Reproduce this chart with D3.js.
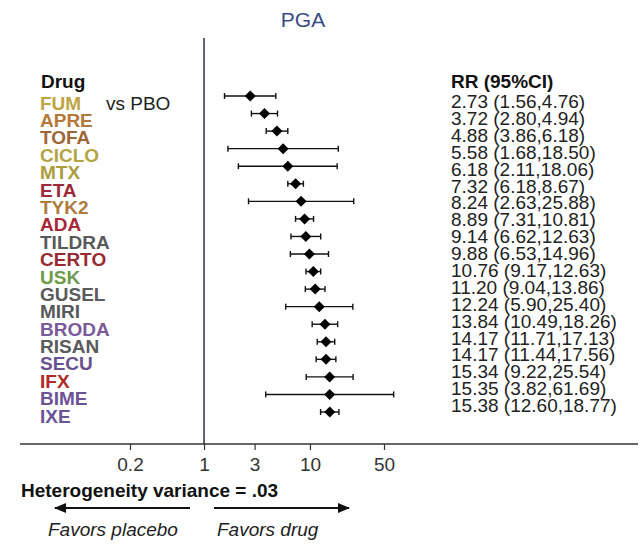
<html>
<script src='https://d3js.org/d3.v7.min.js'></script>
<style>
body { margin: 0; background-color: #ffffff; }
text { font-family: "Liberation Sans", Arial, sans-serif; }
</style>
<body onload='init()'>
<script>
// forest plot data
var drugs = ["FUM","APRE","TOFA","CICLO","MTX","ETA","TYK2","ADA","TILDRA","CERTO",
             "USK","GUSEL","MIRI","BRODA","RISAN","SECU","IFX","BIME","IXE"];
var rr = [2.73,3.72,4.88,5.58,6.18,7.32,8.24,8.89,9.14,9.88,
          10.76,11.20,12.24,13.84,14.17,14.17,15.34,15.35,15.38];
var lower = [1.56,2.80,3.86,1.68,2.11,6.18,2.63,7.31,6.62,6.53,
             9.17,9.04,5.90,10.49,11.71,11.44,9.22,3.82,12.60];
var upper = [4.76,4.94,6.18,18.50,18.06,8.67,25.88,10.81,12.63,14.96,
             12.63,13.86,25.40,18.26,17.13,17.56,25.54,61.69,18.77];
var tickVals = [0.2, 1, 3, 10, 50];
var tickLabels = ["0.2", "1", "3", "10", "50"];

function init() {

var W = 641, H = 549;

// label colours by drug class
var drugColor = {
  FUM: "#bfa444", APRE: "#b5783a", TOFA: "#9c6636", CICLO: "#b3a444", MTX: "#ab9c3c",
  ETA: "#9c2a38", TYK2: "#ad7c3e", ADA: "#a8283a", TILDRA: "#58595b", CERTO: "#9a2a30",
  USK: "#6e9a4c", GUSEL: "#5a5b5d", MIRI: "#58595b", BRODA: "#7a5a98", RISAN: "#5a5b5d",
  SECU: "#6a5290", IFX: "#b22a2a", BIME: "#6c5494", IXE: "#6a5296"
};

var svg = d3.select("body").append("svg")
    .attr("width", W)
    .attr("height", H);

var x = d3.scaleLog().domain([0.2, 50]).range([130, 384]);

var yMark = d3.scalePoint().domain(drugs).range([96, 412]);
var yLab = d3.scalePoint().domain(drugs).range([103, 416]);
var yRR = d3.scalePoint().domain(drugs).range([101.5, 405.5]);

var rows = drugs.map(function(d, i) {
  return {drug: d, rr: rr[i], lo: lower[i], hi: upper[i]};
});

// title
svg.append("text")
    .attr("x", 303).attr("y", 20).attr("dy", "0.35em")
    .attr("text-anchor", "middle")
    .attr("fill", "#3b4c86")
    .style("font-size", "21px")
    .text("PGA");

// line of no effect
svg.append("line")
    .attr("x1", x(1)).attr("x2", x(1))
    .attr("y1", 38).attr("y2", 444)
    .attr("stroke", "#2c2c58").attr("stroke-width", 1.5);

// x axis
var axisG = svg.append("g")
    .attr("transform", "translate(0,444)")
    .call(d3.axisBottom(x).tickValues(tickVals)
      .tickFormat(function(d, i) { return tickLabels[i]; })
      .tickSize(6).tickPadding(8));
axisG.select(".domain").remove();
axisG.selectAll("text").style("font-size", "19px").attr("fill", "#333")
    .style("font-family", "'Liberation Sans', Arial, sans-serif");
axisG.selectAll(".tick line").attr("stroke", "#333").attr("stroke-width", 1.2);
svg.append("line")
    .attr("x1", 20).attr("x2", 638)
    .attr("y1", 444).attr("y2", 444)
    .attr("stroke", "#333").attr("stroke-width", 1.5);

// headers
svg.append("text")
    .attr("x", 41).attr("y", 81).attr("dy", "0.35em")
    .style("font-size", "19px").style("font-weight", "bold")
    .attr("fill", "#111")
    .text("Drug");
svg.append("text")
    .attr("x", 106).attr("y", 103).attr("dy", "0.35em")
    .style("font-size", "19px")
    .attr("fill", "#222")
    .text("vs PBO");
svg.append("text")
    .attr("x", 451).attr("y", 81).attr("dy", "0.35em")
    .style("font-size", "19px").style("font-weight", "bold")
    .attr("fill", "#111")
    .text("RR (95%CI)");

// drug labels
svg.selectAll(".lab")
    .data(rows)
    .enter().append("text")
    .attr("class", "lab")
    .attr("x", 40)
    .attr("y", function(d) { return yLab(d.drug); })
    .attr("dy", "0.35em")
    .style("font-size", "19px").style("font-weight", "bold")
    .attr("fill", function(d) { return drugColor[d.drug]; })
    .text(function(d) { return d.drug; });

// RR text
svg.selectAll(".rrt")
    .data(rows)
    .enter().append("text")
    .attr("class", "rrt")
    .attr("x", 451)
    .attr("y", function(d) { return yRR(d.drug); })
    .attr("dy", "0.35em")
    .style("font-size", "19px")
    .attr("fill", "#222")
    .text(function(d) {
      return d.rr.toFixed(2) + " (" + d.lo.toFixed(2) + "," + d.hi.toFixed(2) + ")";
    });

// CI bars
var ci = svg.selectAll(".ci")
    .data(rows)
    .enter().append("g")
    .attr("class", "ci");
ci.append("line")
    .attr("x1", function(d) { return x(d.lo); })
    .attr("x2", function(d) { return x(d.hi); })
    .attr("y1", function(d) { return yMark(d.drug); })
    .attr("y2", function(d) { return yMark(d.drug); })
    .attr("stroke", "#111").attr("stroke-width", 1.4);
ci.append("line")
    .attr("x1", function(d) { return x(d.lo); })
    .attr("x2", function(d) { return x(d.lo); })
    .attr("y1", function(d) { return yMark(d.drug) - 3; })
    .attr("y2", function(d) { return yMark(d.drug) + 3; })
    .attr("stroke", "#111").attr("stroke-width", 1.4);
ci.append("line")
    .attr("x1", function(d) { return x(d.hi); })
    .attr("x2", function(d) { return x(d.hi); })
    .attr("y1", function(d) { return yMark(d.drug) - 3; })
    .attr("y2", function(d) { return yMark(d.drug) + 3; })
    .attr("stroke", "#111").attr("stroke-width", 1.4);

// point estimates (square diamonds)
svg.selectAll(".pt")
    .data(rows)
    .enter().append("path")
    .attr("class", "pt")
    .attr("d", "M0,-5.5L5.5,0L0,5.5L-5.5,0Z")
    .attr("transform", function(d) {
      return "translate(" + x(d.rr) + "," + yMark(d.drug) + ")";
    })
    .attr("fill", "#000");

// footer
svg.append("text")
    .attr("x", 21).attr("y", 490).attr("dy", "0.35em")
    .style("font-size", "19px").style("font-weight", "bold")
    .attr("fill", "#111")
    .text("Heterogeneity variance = .03");

svg.append("defs").append("marker")
    .attr("id", "ah")
    .attr("viewBox", "0 0 12 10")
    .attr("refX", 11).attr("refY", 5)
    .attr("markerWidth", 12).attr("markerHeight", 10)
    .attr("markerUnits", "userSpaceOnUse")
    .attr("orient", "auto-start-reverse")
    .append("path")
    .attr("d", "M0,0 L12,5 L0,10 z")
    .attr("fill", "#111");

svg.append("line")
    .attr("x1", 190).attr("x2", 55)
    .attr("y1", 508).attr("y2", 508)
    .attr("stroke", "#111").attr("stroke-width", 2)
    .attr("marker-end", "url(#ah)");
svg.append("line")
    .attr("x1", 214).attr("x2", 349)
    .attr("y1", 508).attr("y2", 508)
    .attr("stroke", "#111").attr("stroke-width", 2)
    .attr("marker-end", "url(#ah)");

svg.append("text")
    .attr("x", 48).attr("y", 529).attr("dy", "0.35em")
    .style("font-size", "19px").style("font-style", "italic")
    .attr("fill", "#222")
    .text("Favors placebo");
svg.append("text")
    .attr("x", 217).attr("y", 529).attr("dy", "0.35em")
    .style("font-size", "19px").style("font-style", "italic")
    .attr("fill", "#222")
    .text("Favors drug");

}
</script>
</body>
</html>
